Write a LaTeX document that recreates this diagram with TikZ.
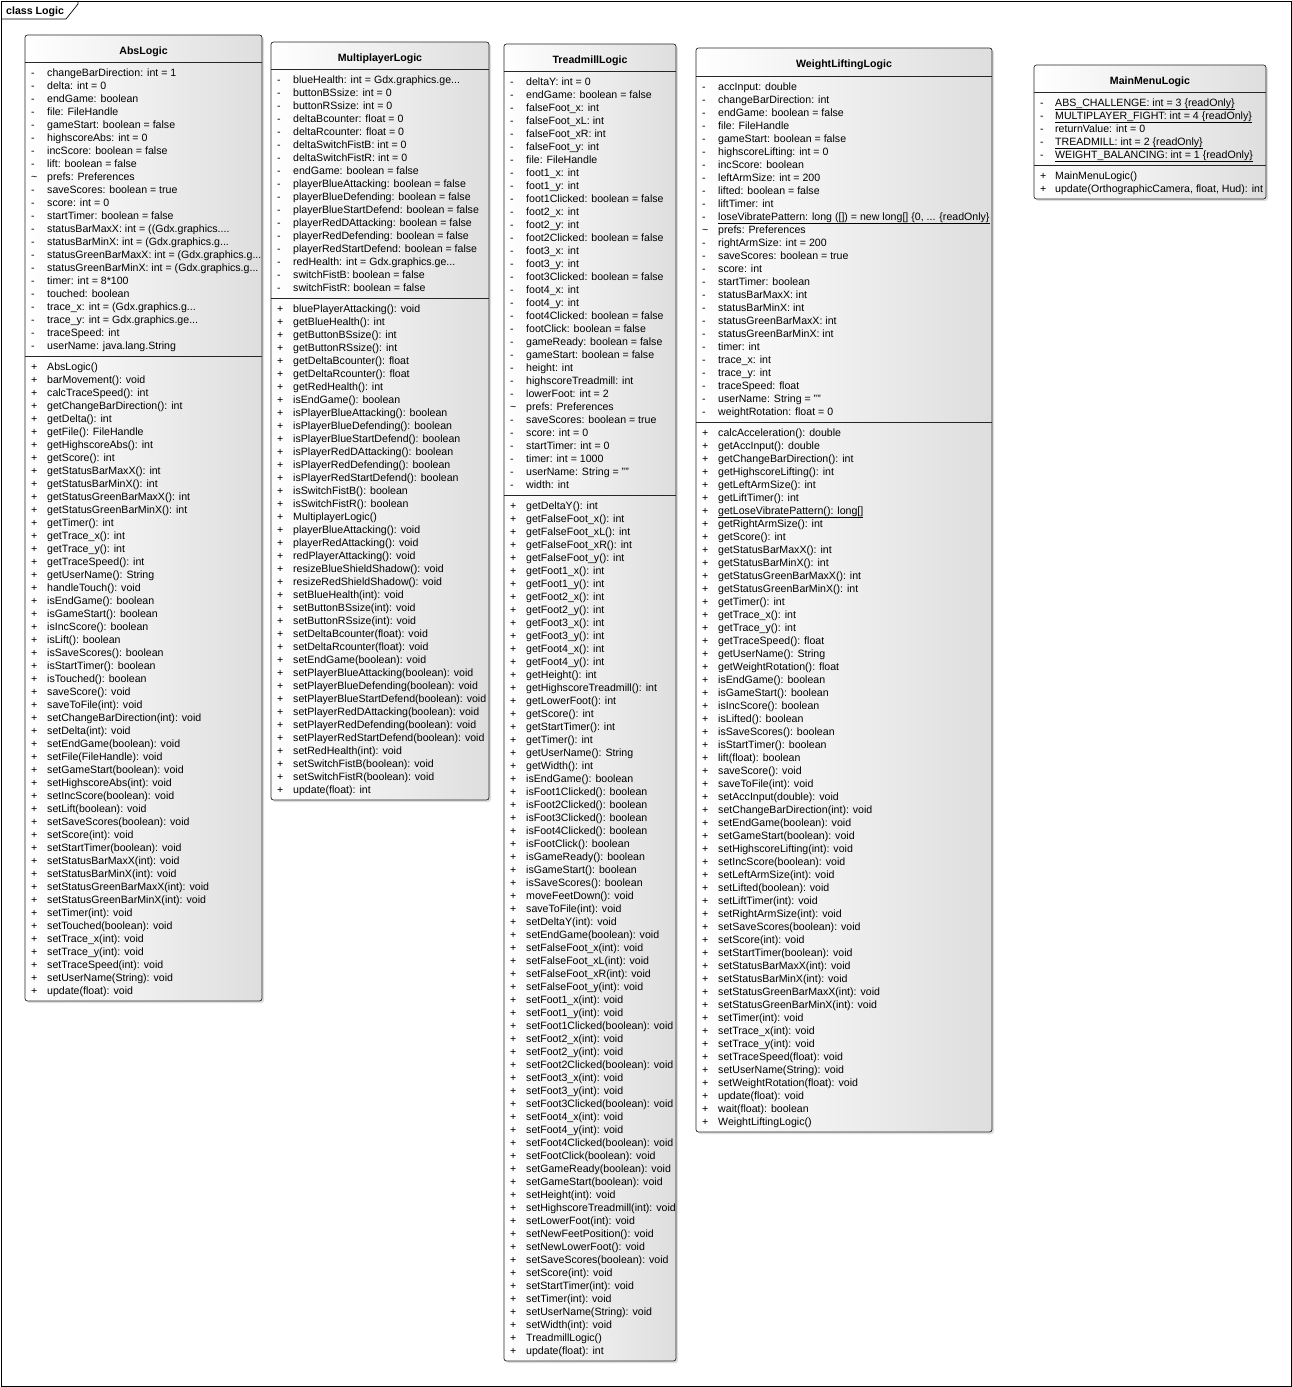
\documentclass[tikz,border=0pt]{standalone}
\usepackage{fontspec}
\setmainfont{Liberation Sans}
\usetikzlibrary{shadows,positioning}

\begin{document}
\begin{tikzpicture}[x=1pt,y=-1pt,
        classbox/.style={draw=black!85,line width=0.7pt,rounded corners=2.5pt,
            left color=white,right color=black!13,
            drop shadow={shadow xshift=2pt,shadow yshift=-2pt,opacity=0.25}},
        rule/.style={draw=black!85,line width=0.7pt},
        title/.style={font=\fontsize{10.6}{13}\selectfont\bfseries,inner sep=0pt},
        member/.style={font=\fontsize{10.6}{13}\selectfont,inner sep=0pt,anchor=west,
            text height=9pt,text depth=1pt}
    ]
    \useasboundingbox (0,0) rectangle (1292,1387);

    % frame
    \draw[line width=0.7pt] (1,1) rectangle (1291,1386);
    \draw[line width=0.7pt] (1,19) -- (66,19) -- (78,4) -- (78,1);
    \node[title,anchor=west] (frame) at (6,12) {class Logic};

    % AbsLogic
    \draw[classbox] (25,35) rectangle (262,1001);
    \draw[rule] (25,62) -- (262,62) (25,356) -- (262,356);
    \node[title] (abs) at (143.5,52) {AbsLogic};
    \foreach \v/\t [count=\i from 0] in {
        -/changeBarDirection: int = 1, -/delta: int = 0, -/endGame: boolean,
        -/file: FileHandle, -/gameStart: boolean = false, -/highscoreAbs: int = 0,
        -/incScore: boolean = false, -/lift: boolean = false,
        \textasciitilde/prefs: Preferences, -/saveScores: boolean = true,
        -/score: int = 0, -/startTimer: boolean = false,
        -/{statusBarMaxX: int = ((Gdx.graphics....},
        -/{statusBarMinX: int = (Gdx.graphics.g...},
        -/{statusGreenBarMaxX: int = (Gdx.graphics.g...},
        -/{statusGreenBarMinX: int = (Gdx.graphics.g...},
        -/timer: int = 8*100, -/touched: boolean,
        -/{trace\_x: int = (Gdx.graphics.g...},
        -/{trace\_y: int = Gdx.graphics.ge...},
        -/traceSpeed: int, -/userName: java.lang.String}{
        \node[member] (absv\i) at (31,72+13*\i) {\v};
        \node[member] (absa\i) at (47,72+13*\i) {\t};
    }
    \foreach \t [count=\i from 0] in {
        AbsLogic(), barMovement(): void, calcTraceSpeed(): int,
        getChangeBarDirection(): int, getDelta(): int, getFile(): FileHandle,
        getHighscoreAbs(): int, getScore(): int, getStatusBarMaxX(): int,
        getStatusBarMinX(): int, getStatusGreenBarMaxX(): int,
        getStatusGreenBarMinX(): int, getTimer(): int, getTrace\_x(): int,
        getTrace\_y(): int, getTraceSpeed(): int, getUserName(): String,
        handleTouch(): void, isEndGame(): boolean, isGameStart(): boolean,
        isIncScore(): boolean, isLift(): boolean, isSaveScores(): boolean,
        isStartTimer(): boolean, isTouched(): boolean, saveScore(): void,
        saveToFile(int): void, setChangeBarDirection(int): void,
        setDelta(int): void, setEndGame(boolean): void,
        setFile(FileHandle): void, setGameStart(boolean): void,
        setHighscoreAbs(int): void, setIncScore(boolean): void,
        setLift(boolean): void, setSaveScores(boolean): void,
        setScore(int): void, setStartTimer(boolean): void,
        setStatusBarMaxX(int): void, setStatusBarMinX(int): void,
        setStatusGreenBarMaxX(int): void, setStatusGreenBarMinX(int): void,
        setTimer(int): void, setTouched(boolean): void,
        setTrace\_x(int): void, setTrace\_y(int): void,
        setTraceSpeed(int): void, setUserName(String): void,
        update(float): void}{
        \node[member] (absp\i) at (31,366+13*\i) {+};
        \node[member] (absm\i) at (47,366+13*\i) {\t};
    }

    % MultiplayerLogic
    \draw[classbox] (271,42) rectangle (489,800);
    \draw[rule] (271,69) -- (489,69) (271,298) -- (489,298);
    \node[title] (multi) at (380,59) {MultiplayerLogic};
    \foreach \v/\t [count=\i from 0] in {
        -/{blueHealth: int = Gdx.graphics.ge...}, -/buttonBSsize: int = 0,
        -/buttonRSsize: int = 0, -/deltaBcounter: float = 0,
        -/deltaRcounter: float = 0, -/deltaSwitchFistB: int = 0,
        -/deltaSwitchFistR: int = 0, -/endGame: boolean = false,
        -/playerBlueAttacking: boolean = false,
        -/playerBlueDefending: boolean = false,
        -/playerBlueStartDefend: boolean = false,
        -/playerRedDAttacking: boolean = false,
        -/playerRedDefending: boolean = false,
        -/playerRedStartDefend: boolean = false,
        -/{redHealth: int = Gdx.graphics.ge...},
        -/switchFistB: boolean = false, -/switchFistR: boolean = false}{
        \node[member] (multiv\i) at (277,79+13*\i) {\v};
        \node[member] (multia\i) at (293,79+13*\i) {\t};
    }
    \foreach \t [count=\i from 0] in {
        bluePlayerAttacking(): void, getBlueHealth(): int,
        getButtonBSsize(): int, getButtonRSsize(): int,
        getDeltaBcounter(): float, getDeltaRcounter(): float,
        getRedHealth(): int, isEndGame(): boolean,
        isPlayerBlueAttacking(): boolean, isPlayerBlueDefending(): boolean,
        isPlayerBlueStartDefend(): boolean, isPlayerRedDAttacking(): boolean,
        isPlayerRedDefending(): boolean, isPlayerRedStartDefend(): boolean,
        isSwitchFistB(): boolean, isSwitchFistR(): boolean,
        MultiplayerLogic(), playerBlueAttacking(): void,
        playerRedAttacking(): void, redPlayerAttacking(): void,
        resizeBlueShieldShadow(): void, resizeRedShieldShadow(): void,
        setBlueHealth(int): void, setButtonBSsize(int): void,
        setButtonRSsize(int): void, setDeltaBcounter(float): void,
        setDeltaRcounter(float): void, setEndGame(boolean): void,
        setPlayerBlueAttacking(boolean): void,
        setPlayerBlueDefending(boolean): void,
        setPlayerBlueStartDefend(boolean): void,
        setPlayerRedDAttacking(boolean): void,
        setPlayerRedDefending(boolean): void,
        setPlayerRedStartDefend(boolean): void,
        setRedHealth(int): void, setSwitchFistB(boolean): void,
        setSwitchFistR(boolean): void, update(float): int}{
        \node[member] (multip\i) at (277,308+13*\i) {+};
        \node[member] (multim\i) at (293,308+13*\i) {\t};
    }

    % TreadmillLogic
    \draw[classbox] (504,44) rectangle (676,1361);
    \draw[rule] (504,71) -- (676,71) (504,495) -- (676,495);
    \node[title] (tread) at (590,61) {TreadmillLogic};
    \foreach \v/\t [count=\i from 0] in {
        -/deltaY: int = 0, -/endGame: boolean = false,
        -/falseFoot\_x: int, -/falseFoot\_xL: int, -/falseFoot\_xR: int,
        -/falseFoot\_y: int, -/file: FileHandle,
        -/foot1\_x: int, -/foot1\_y: int, -/foot1Clicked: boolean = false,
        -/foot2\_x: int, -/foot2\_y: int, -/foot2Clicked: boolean = false,
        -/foot3\_x: int, -/foot3\_y: int, -/foot3Clicked: boolean = false,
        -/foot4\_x: int, -/foot4\_y: int, -/foot4Clicked: boolean = false,
        -/footClick: boolean = false, -/gameReady: boolean = false,
        -/gameStart: boolean = false, -/height: int,
        -/highscoreTreadmill: int, -/lowerFoot: int = 2,
        \textasciitilde/prefs: Preferences, -/saveScores: boolean = true,
        -/score: int = 0, -/startTimer: int = 0, -/timer: int = 1000,
        -/userName: String = "", -/width: int}{
        \node[member] (treadv\i) at (510,81+13*\i) {\v};
        \node[member] (treada\i) at (526,81+13*\i) {\t};
    }
    \foreach \t [count=\i from 0] in {
        getDeltaY(): int, getFalseFoot\_x(): int, getFalseFoot\_xL(): int,
        getFalseFoot\_xR(): int, getFalseFoot\_y(): int,
        getFoot1\_x(): int, getFoot1\_y(): int, getFoot2\_x(): int,
        getFoot2\_y(): int, getFoot3\_x(): int, getFoot3\_y(): int,
        getFoot4\_x(): int, getFoot4\_y(): int, getHeight(): int,
        getHighscoreTreadmill(): int, getLowerFoot(): int, getScore(): int,
        getStartTimer(): int, getTimer(): int, getUserName(): String,
        getWidth(): int, isEndGame(): boolean, isFoot1Clicked(): boolean,
        isFoot2Clicked(): boolean, isFoot3Clicked(): boolean,
        isFoot4Clicked(): boolean, isFootClick(): boolean,
        isGameReady(): boolean, isGameStart(): boolean,
        isSaveScores(): boolean, moveFeetDown(): void,
        saveToFile(int): void, setDeltaY(int): void,
        setEndGame(boolean): void, setFalseFoot\_x(int): void,
        setFalseFoot\_xL(int): void, setFalseFoot\_xR(int): void,
        setFalseFoot\_y(int): void, setFoot1\_x(int): void,
        setFoot1\_y(int): void, setFoot1Clicked(boolean): void,
        setFoot2\_x(int): void, setFoot2\_y(int): void,
        setFoot2Clicked(boolean): void, setFoot3\_x(int): void,
        setFoot3\_y(int): void, setFoot3Clicked(boolean): void,
        setFoot4\_x(int): void, setFoot4\_y(int): void,
        setFoot4Clicked(boolean): void, setFootClick(boolean): void,
        setGameReady(boolean): void, setGameStart(boolean): void,
        setHeight(int): void, setHighscoreTreadmill(int): void,
        setLowerFoot(int): void, setNewFeetPosition(): void,
        setNewLowerFoot(): void, setSaveScores(boolean): void,
        setScore(int): void, setStartTimer(int): void, setTimer(int): void,
        setUserName(String): void, setWidth(int): void,
        TreadmillLogic(), update(float): int}{
        \node[member] (treadp\i) at (510,505+13*\i) {+};
        \node[member] (treadm\i) at (526,505+13*\i) {\t};
    }

    % WeightLiftingLogic
    \draw[classbox] (696,48) rectangle (992,1132);
    \draw[rule] (696,76) -- (992,76) (696,422) -- (992,422);
    \node[title] (weight) at (844,65) {WeightLiftingLogic};
    \foreach \v/\t [count=\i from 0] in {
        -/accInput: double, -/changeBarDirection: int,
        -/endGame: boolean = false, -/file: FileHandle,
        -/gameStart: boolean = false, -/highscoreLifting: int = 0,
        -/incScore: boolean, -/leftArmSize: int = 200,
        -/lifted: boolean = false, -/liftTimer: int,
        -/{\underline{loseVibratePattern: long ([]) = new long[] \{0, ... \{readOnly\}}},
        \textasciitilde/prefs: Preferences, -/rightArmSize: int = 200,
        -/saveScores: boolean = true, -/score: int, -/startTimer: boolean,
        -/statusBarMaxX: int, -/statusBarMinX: int,
        -/statusGreenBarMaxX: int, -/statusGreenBarMinX: int,
        -/timer: int, -/trace\_x: int, -/trace\_y: int,
        -/traceSpeed: float, -/userName: String = "",
        -/weightRotation: float = 0}{
        \node[member] (weightv\i) at (702,86+13*\i) {\v};
        \node[member] (weighta\i) at (718,86+13*\i) {\t};
    }
    \foreach \t [count=\i from 0] in {
        calcAcceleration(): double, getAccInput(): double,
        getChangeBarDirection(): int, getHighscoreLifting(): int,
        getLeftArmSize(): int, getLiftTimer(): int,
        \underline{getLoseVibratePattern(): long[]},
        getRightArmSize(): int, getScore(): int, getStatusBarMaxX(): int,
        getStatusBarMinX(): int, getStatusGreenBarMaxX(): int,
        getStatusGreenBarMinX(): int, getTimer(): int, getTrace\_x(): int,
        getTrace\_y(): int, getTraceSpeed(): float, getUserName(): String,
        getWeightRotation(): float, isEndGame(): boolean,
        isGameStart(): boolean, isIncScore(): boolean, isLifted(): boolean,
        isSaveScores(): boolean, isStartTimer(): boolean,
        lift(float): boolean, saveScore(): void, saveToFile(int): void,
        setAccInput(double): void, setChangeBarDirection(int): void,
        setEndGame(boolean): void, setGameStart(boolean): void,
        setHighscoreLifting(int): void, setIncScore(boolean): void,
        setLeftArmSize(int): void, setLifted(boolean): void,
        setLiftTimer(int): void, setRightArmSize(int): void,
        setSaveScores(boolean): void, setScore(int): void,
        setStartTimer(boolean): void, setStatusBarMaxX(int): void,
        setStatusBarMinX(int): void, setStatusGreenBarMaxX(int): void,
        setStatusGreenBarMinX(int): void, setTimer(int): void,
        setTrace\_x(int): void, setTrace\_y(int): void,
        setTraceSpeed(float): void, setUserName(String): void,
        setWeightRotation(float): void, update(float): void,
        wait(float): boolean, WeightLiftingLogic()}{
        \node[member] (weightp\i) at (702,432+13*\i) {+};
        \node[member] (weightm\i) at (718,432+13*\i) {\t};
    }

    % MainMenuLogic
    \draw[classbox] (1034,65) rectangle (1266,199);
    \draw[rule] (1034,92) -- (1266,92) (1034,165) -- (1266,165);
    \node[title] (menu) at (1150,82) {MainMenuLogic};
    \foreach \v/\t [count=\i from 0] in {
        -/\underline{ABS\_CHALLENGE: int = 3 \{readOnly\}},
        -/\underline{MULTIPLAYER\_FIGHT: int = 4 \{readOnly\}},
        -/returnValue: int = 0,
        -/\underline{TREADMILL: int = 2 \{readOnly\}},
        -/\underline{WEIGHT\_BALANCING: int = 1 \{readOnly\}}}{
        \node[member] (menuv\i) at (1040,102+13*\i) {\v};
        \node[member] (menua\i) at (1055,102+13*\i) {\t};
    }
    \foreach \t [count=\i from 0] in {
        MainMenuLogic(), {update(OrthographicCamera, float, Hud): int}}{
        \node[member] (menup\i) at (1040,175+13*\i) {+};
        \node[member] (menum\i) at (1055,175+13*\i) {\t};
    }
\end{tikzpicture}
\end{document}
